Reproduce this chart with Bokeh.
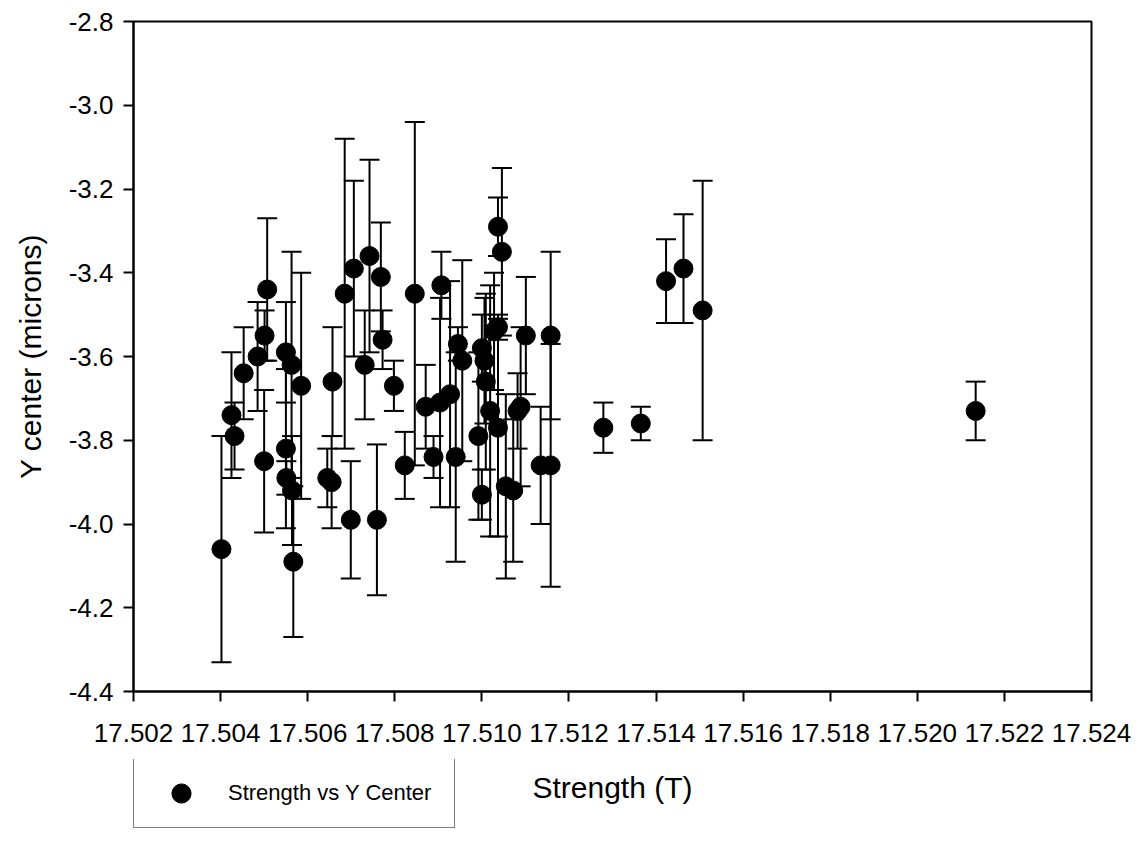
from bokeh.plotting import figure
from bokeh.layouts import column
from bokeh.models import (ColumnDataSource, Whisker, TeeHead, Legend, LegendItem,
                          FixedTicker, Range1d, NumeralTickFormatter, Label)
from bokeh.embed import file_html
from bokeh.resources import INLINE

# ---- data ----
strength = [17.50402, 17.50425, 17.50432, 17.50453, 17.50485, 17.50507, 17.50501, 17.50500,
            17.50550, 17.50563, 17.50585, 17.50550, 17.50551, 17.50564, 17.50567, 17.50657,
            17.50645, 17.50655, 17.50685, 17.50699, 17.50706, 17.50731, 17.50742, 17.50759,
            17.50768, 17.50772, 17.50798, 17.50823, 17.50846, 17.50871, 17.50889, 17.50904,
            17.50907, 17.50927, 17.50940, 17.50945, 17.50955, 17.50992, 17.51000, 17.51000,
            17.51006, 17.51009, 17.51019, 17.51028, 17.51037, 17.51037, 17.51046, 17.51037,
            17.51055, 17.51072, 17.51082, 17.51089, 17.51101, 17.51135, 17.51158, 17.51158,
            17.51279, 17.51365, 17.51423, 17.51463, 17.51507, 17.52134]
y_center = [-4.06, -3.74, -3.79, -3.64, -3.60, -3.44, -3.55, -3.85,
            -3.59, -3.62, -3.67, -3.82, -3.89, -3.92, -4.09, -3.66,
            -3.89, -3.90, -3.45, -3.99, -3.39, -3.62, -3.36, -3.99,
            -3.41, -3.56, -3.67, -3.86, -3.45, -3.72, -3.84, -3.71,
            -3.43, -3.69, -3.84, -3.57, -3.61, -3.79, -3.58, -3.93,
            -3.61, -3.66, -3.73, -3.54, -3.53, -3.29, -3.35, -3.77,
            -3.91, -3.92, -3.73, -3.72, -3.55, -3.86, -3.55, -3.86,
            -3.77, -3.76, -3.42, -3.39, -3.49, -3.73]
y_err = [0.27, 0.15, 0.08, 0.11, 0.13, 0.17, 0.06, 0.17,
         0.12, 0.27, 0.27, 0.19, 0.04, 0.13, 0.18, 0.13,
         0.07, 0.11, 0.37, 0.14, 0.21, 0.13, 0.23, 0.18,
         0.13, 0.07, 0.06, 0.08, 0.41, 0.10, 0.05, 0.25,
         0.08, 0.27, 0.25, 0.04, 0.24, 0.20, 0.08, 0.06,
         0.15, 0.21, 0.30, 0.14, 0.03, 0.07, 0.20, 0.26,
         0.22, 0.17, 0.09, 0.19, 0.14, 0.14, 0.20, 0.29,
         0.06, 0.04, 0.10, 0.13, 0.31, 0.07]
x_ticks = [17.502, 17.504, 17.506, 17.508, 17.510, 17.512, 17.514, 17.516,
           17.518, 17.520, 17.522, 17.524]
y_ticks = [-4.4, -4.2, -4.0, -3.8, -3.6, -3.4, -3.2, -3.0, -2.8]
series_name = "Strength vs Y Center"
x_title = "Strength (T)"
y_title = "Y center (microns)"

FONT = "Liberation Sans"
LW = 2

src = ColumnDataSource(dict(
    x=strength, y=y_center,
    lower=[c - e for c, e in zip(y_center, y_err)],
    upper=[c + e for c, e in zip(y_center, y_err)],
))

# ---------------- main chart ----------------
p = figure(frame_width=958, frame_height=670, output_backend="svg", toolbar_location=None,
           x_range=Range1d(x_ticks[0], x_ticks[-1]), y_range=Range1d(y_ticks[0], y_ticks[-1]),
           min_border_left=133, min_border_top=21, min_border_right=40, min_border_bottom=68,
           background_fill_color="white", border_fill_color="white")

p.grid.visible = False
p.outline_line_color = "black"
p.outline_line_width = LW
p.outline_line_alpha = 1.0

for ax in (p.xaxis[0], p.yaxis[0]):
    ax.axis_line_color = "black"
    ax.axis_line_width = LW
    ax.major_tick_line_color = "black"
    ax.major_tick_line_width = LW
    ax.major_tick_in = 0
    ax.major_tick_out = 10
    ax.minor_tick_line_color = None
    ax.major_label_text_font = FONT
    ax.major_label_text_font_size = "26px"
    ax.major_label_text_color = "black"
    ax.axis_label_text_font = FONT
    ax.axis_label_text_font_size = "30px"
    ax.axis_label_text_font_style = "normal"
    ax.axis_label_text_color = "black"

p.xaxis.ticker = FixedTicker(ticks=x_ticks)
p.yaxis.ticker = FixedTicker(ticks=y_ticks)
p.xaxis.formatter = NumeralTickFormatter(format="0.000")
p.yaxis.formatter = NumeralTickFormatter(format="0.0")
p.yaxis.axis_label = y_title
p.xaxis.major_label_standoff = 22
p.yaxis.major_label_standoff = 10
p.yaxis.axis_label_standoff = 19

wh = Whisker(source=src, base="x", upper="upper", lower="lower", dimension="height",
             line_color="black", line_width=LW,
             upper_head=TeeHead(size=20, line_color="black", line_width=LW),
             lower_head=TeeHead(size=20, line_color="black", line_width=LW),
             level="glyph")
p.add_layout(wh)

r = p.scatter("x", "y", source=src, size=19, color="black", marker="circle")

# ---------------- bottom strip: axis title + legend ----------------
# this strip's ranges are pixel-like units far away from the data values,
# so the legend's swatch renderer draws nothing visible inside the strip
STRIP_X0 = 1000
STRIP_Y0 = 1000
q = figure(frame_width=958, frame_height=92, output_backend="svg", toolbar_location=None,
           x_range=Range1d(STRIP_X0, STRIP_X0 + 958), y_range=Range1d(STRIP_Y0, STRIP_Y0 + 92),
           min_border_left=133, min_border_top=0, min_border_right=40, min_border_bottom=0,
           x_axis_type=None, y_axis_type=None,
           background_fill_color="white", border_fill_color="white")
q.grid.visible = False
q.outline_line_color = None

q.add_layout(Label(x=STRIP_X0 + 479, y=STRIP_Y0 + 64, text=x_title,
                   text_align="center", text_baseline="middle",
                   text_font=FONT, text_font_size="30px", text_color="black"))

r_leg = q.scatter(x=strength[:1], y=y_center[:1], size=19, color="black", marker="circle")
legend = Legend(items=[LegendItem(label=series_name, renderers=[r_leg])],
                location=(0, 23), margin=0, padding=10, spacing=0,
                glyph_width=74, glyph_height=48, label_standoff=10,
                label_width=216, label_height=48,
                label_text_font=FONT, label_text_font_size="22px",
                label_text_color="black",
                border_line_color="black", border_line_width=1,
                background_fill_alpha=1.0, background_fill_color="white")
q.add_layout(legend)

layout = column(p, q, spacing=0)

open("out.html", "w").write(file_html(layout, INLINE))
